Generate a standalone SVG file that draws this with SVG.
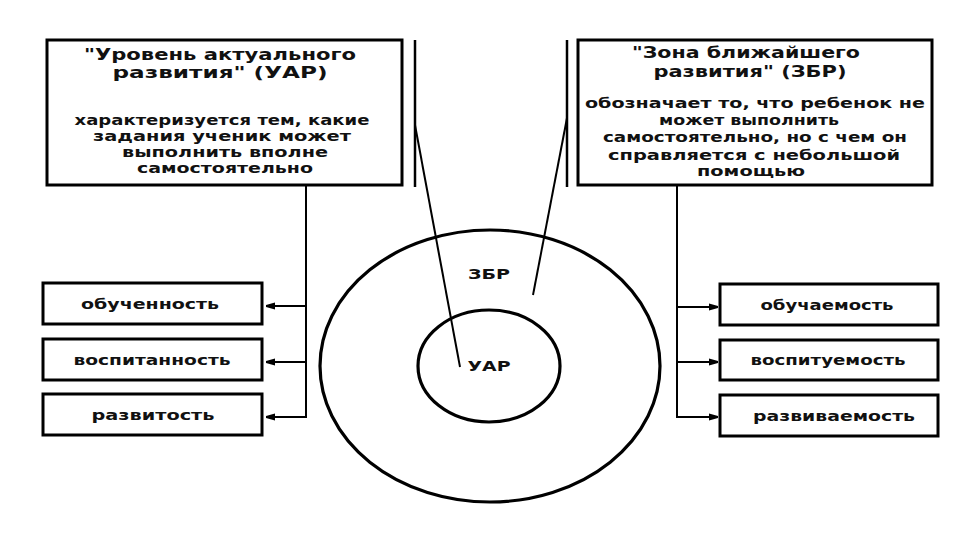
<svg xmlns="http://www.w3.org/2000/svg" width="960" height="540" viewBox="0 0 960 540">
  <style>
    .box { fill: #ffffff; stroke: #000000; stroke-width: 3; }
    .line { fill: none; stroke: #000000; stroke-width: 2; }
    .ell { fill: none; stroke: #000000; stroke-width: 3.2; }
    .t { font-family: "DejaVu Sans", "Liberation Sans", sans-serif; font-weight: bold; fill: #111111; text-anchor: middle; }
    .title { font-size: 15px; }
    .desc { font-size: 14.5px; }
    .lbl { font-size: 14.5px; }
    .circ { font-size: 14px; }
  </style>
  <defs>
    <marker id="arr" viewBox="0 0 10 10" refX="10" refY="5" markerWidth="6" markerHeight="4.5" orient="auto" markerUnits="strokeWidth">
      <path d="M0,1 L10,4 L10,6 L0,9 z" fill="#000000"/>
    </marker>
  </defs>
  <rect width="960" height="540" fill="#ffffff"/>

  <g id="connectors">
    <line class="line" x1="415" y1="40" x2="415" y2="187" style="stroke-width:2.5"/>
    <line class="line" x1="415" y1="125" x2="460" y2="367"/>
    <line class="line" x1="567" y1="40" x2="567" y2="187" style="stroke-width:2.5"/>
    <line class="line" x1="567" y1="118" x2="533" y2="295"/>
    <polyline class="line" points="306,184 306,417 266,417" marker-end="url(#arr)"/>
    <line class="line" x1="306" y1="306" x2="266" y2="306" marker-end="url(#arr)"/>
    <line class="line" x1="306" y1="362" x2="266" y2="362" marker-end="url(#arr)"/>
    <polyline class="line" points="677,184 677,417 718,417" marker-end="url(#arr)"/>
    <line class="line" x1="677" y1="307" x2="718" y2="307" marker-end="url(#arr)"/>
    <line class="line" x1="677" y1="362" x2="718" y2="362" marker-end="url(#arr)"/>
  </g>

  <g id="uar-box">
    <rect class="box" x="47" y="40" width="355" height="145"/>
    <text class="t title" x="220" y="60" textLength="272" lengthAdjust="spacingAndGlyphs">"Уровень актуального</text>
    <text class="t title" x="220" y="78" textLength="215" lengthAdjust="spacingAndGlyphs">развития" (УАР)</text>
    <text class="t desc" x="222" y="125" textLength="295" lengthAdjust="spacingAndGlyphs">характеризуется тем, какие</text>
    <text class="t desc" x="222" y="141" textLength="258" lengthAdjust="spacingAndGlyphs">задания ученик может</text>
    <text class="t desc" x="225" y="157" textLength="206" lengthAdjust="spacingAndGlyphs">выполнить вполне</text>
    <text class="t desc" x="225" y="173" textLength="176" lengthAdjust="spacingAndGlyphs">самостоятельно</text>
  </g>

  <g id="zbr-box">
    <rect class="box" x="578" y="40" width="354" height="145"/>
    <text class="t title" x="746" y="58" textLength="228" lengthAdjust="spacingAndGlyphs">"Зона ближайшего</text>
    <text class="t title" x="750" y="77" textLength="193" lengthAdjust="spacingAndGlyphs">развития" (ЗБР)</text>
    <text class="t desc" x="755" y="108" textLength="340" lengthAdjust="spacingAndGlyphs">обозначает то, что ребенок не</text>
    <text class="t desc" x="749" y="125" textLength="180" lengthAdjust="spacingAndGlyphs">может выполнить</text>
    <text class="t desc" x="755" y="142" textLength="304" lengthAdjust="spacingAndGlyphs">самостоятельно, но с чем он</text>
    <text class="t desc" x="754" y="160" textLength="292" lengthAdjust="spacingAndGlyphs">справляется с небольшой</text>
    <text class="t desc" x="751" y="176" textLength="108" lengthAdjust="spacingAndGlyphs">помощью</text>
  </g>

  <g id="zbr-circle">
    <ellipse class="ell" cx="490" cy="366" rx="170" ry="136"/>
    <text class="t circ" x="489" y="279" textLength="42" lengthAdjust="spacingAndGlyphs">ЗБР</text>
  </g>

  <g id="uar-circle">
    <ellipse class="ell" cx="489" cy="366" rx="71" ry="56"/>
    <text class="t circ" x="489" y="371" textLength="43" lengthAdjust="spacingAndGlyphs">УАР</text>
  </g>

  <g id="obuchennost">
    <rect class="box" x="43" y="283" width="219" height="41"/>
    <text class="t lbl" x="150" y="309" textLength="138" lengthAdjust="spacingAndGlyphs">обученность</text>
  </g>
  <g id="vospitannost">
    <rect class="box" x="43" y="339" width="219" height="41"/>
    <text class="t lbl" x="152" y="365" textLength="157" lengthAdjust="spacingAndGlyphs">воспитанность</text>
  </g>
  <g id="razvitost">
    <rect class="box" x="43" y="394" width="219" height="41"/>
    <text class="t lbl" x="153" y="420" textLength="123" lengthAdjust="spacingAndGlyphs">развитость</text>
  </g>

  <g id="obuchaemost">
    <rect class="box" x="720" y="284" width="218" height="41"/>
    <text class="t lbl" x="827" y="310" textLength="133" lengthAdjust="spacingAndGlyphs">обучаемость</text>
  </g>
  <g id="vospituemost">
    <rect class="box" x="720" y="340" width="218" height="40"/>
    <text class="t lbl" x="828" y="365" textLength="155" lengthAdjust="spacingAndGlyphs">воспитуемость</text>
  </g>
  <g id="razvivaemost">
    <rect class="box" x="720" y="395" width="218" height="41"/>
    <text class="t lbl" x="834" y="421" textLength="162" lengthAdjust="spacingAndGlyphs">развиваемость</text>
  </g>
</svg>
